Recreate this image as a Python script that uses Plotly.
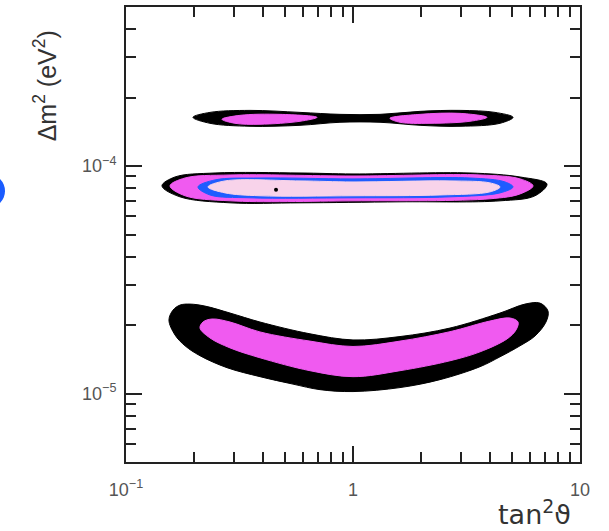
import plotly.graph_objects as go

# allowed regions, tan^2(theta) vs dm^2 (dm^2 in units of 1e-5 eV^2)
low_outer_x = [0.1546, 0.1612, 0.1729, 0.1914, 0.2228, 0.2873, 0.3893, 0.6463, 1.0, 1.611, 2.675, 4.442,
               5.724, 6.665, 7.228, 7.081, 6.337, 5.442, 4.442, 3.627, 2.417, 1.611, 1.0, 0.7155,
               0.5441, 0.3893, 0.2786, 0.2118, 0.182, 0.1644]
low_outer_y = [2.104, 2.327, 2.447, 2.472, 2.423, 2.258, 2.062, 1.83, 1.72, 1.78, 1.94, 2.258,
               2.472, 2.497, 2.304, 2.062, 1.791, 1.621, 1.450, 1.312, 1.151, 1.062, 1.020, 1.040,
               1.100, 1.186, 1.299, 1.466, 1.621, 1.809]
low_inner_x = [0.2118, 0.2184, 0.2392, 0.2873, 0.3893, 0.6463, 1.0, 1.611, 2.675, 4.013, 4.916, 5.333,
               5.224, 4.769, 3.627, 2.675, 1.611, 1.0, 0.6463, 0.3893, 0.2873, 0.2344]
low_inner_y = [1.941, 2.062, 2.126, 2.062, 1.865, 1.70, 1.61, 1.70, 1.87, 2.083, 2.147, 2.062,
               1.903, 1.738, 1.525, 1.393, 1.260, 1.186, 1.260, 1.436, 1.587, 1.755]

mid_black_x = [0.144, 0.1644, 0.2467, 0.5842, 1.0, 3.276, 5.442, 7.153, 6.337, 4.442, 1.611, 0.5842, 0.2873, 0.1729]
mid_black_y = [8.18, 8.95, 9.32, 9.32, 9.23, 9.32, 8.95, 8.34, 7.40, 7.03, 6.96, 6.89, 6.89, 7.32]
mid_magenta_x = [0.1563, 0.182, 0.2873, 1.0, 3.627, 5.442, 6.209, 5.442, 4.013, 1.0, 0.2873, 0.182]
mid_magenta_y = [8.18, 8.86, 9.135, 9.04, 9.135, 8.78, 8.18, 7.54, 7.177, 7.03, 7.03, 7.40]
mid_blue_x = [0.2075, 0.2467, 0.3893, 1.0, 3.276, 4.674, 5.068, 4.442, 2.675, 1.0, 0.3518, 0.2344]
mid_blue_y = [8.09, 8.69, 8.86, 8.78, 8.86, 8.51, 8.09, 7.62, 7.32, 7.25, 7.25, 7.46]
mid_pink_x = [0.2297, 0.2731, 0.5842, 1.0, 2.675, 4.013, 4.442, 4.013, 2.417, 1.0, 0.3893, 0.2731]
mid_pink_y = [8.09, 8.60, 8.60, 8.51, 8.60, 8.43, 8.09, 7.70, 7.46, 7.40, 7.40, 7.62]

top_black_x = [0.1973, 0.2344, 0.3518, 0.5842, 0.8763, 1.315, 1.974, 2.961, 4.223, 5.068,
               4.442, 2.961, 1.974, 1.315, 0.8763, 0.5842, 0.3518, 0.2344]
top_black_y = [16.37, 17.21, 17.56, 17.21, 16.87, 16.87, 17.39, 17.56, 17.21, 16.37,
               15.41, 14.95, 15.10, 15.57, 15.57, 15.10, 14.95, 15.41]
top_left_x = [0.2648, 0.3177, 0.477, 0.694, 0.5842, 0.3893, 0.302]
top_left_y = [16.05, 16.70, 16.87, 16.37, 15.73, 15.26, 15.41]
top_right_x = [1.455, 1.974, 2.961, 3.891, 3.276, 2.184, 1.611]
top_right_y = [16.21, 16.87, 17.04, 16.37, 15.73, 15.41, 15.57]

best_x = [0.458]
best_y = [7.86]

x_major = [0.1, 1, 10]
x_major_text = ["10<sup>\u22121</sup>", "1", "10"]
y_major = [1e-5, 1e-4]
y_major_text = ["10<sup>\u22125</sup>", "10<sup>\u22124</sup>"]

BLACK = "#000000"
MAGENTA = "#f05af0"
BLUE = "#1f5cff"
PINK = "#f8d3ea"

fig = go.Figure()


def region(xs, ys, color):
    xs = list(xs) + [xs[0]]
    ys = [v * 1e-5 for v in list(ys) + [ys[0]]]
    fig.add_trace(go.Scatter(x=xs, y=ys, mode="lines", fill="toself", fillcolor=color,
                             line=dict(color=color, width=1, shape="spline", smoothing=1.0),
                             hoverinfo="skip", showlegend=False))


region(low_outer_x, low_outer_y, BLACK)
region(low_inner_x, low_inner_y, MAGENTA)
region(mid_black_x, mid_black_y, BLACK)
region(mid_magenta_x, mid_magenta_y, MAGENTA)
region(mid_blue_x, mid_blue_y, BLUE)
region(mid_pink_x, mid_pink_y, PINK)
region(top_black_x, top_black_y, BLACK)
region(top_left_x, top_left_y, MAGENTA)
region(top_right_x, top_right_y, MAGENTA)

fig.add_trace(go.Scatter(x=best_x, y=[v * 1e-5 for v in best_y], mode="markers",
                         marker=dict(color="black", size=4), showlegend=False))

minor_x = [k * 0.1 for k in range(2, 10)] + list(range(2, 10))
minor_y = [k * 1e-6 for k in range(5, 10)] + [k * 1e-5 for k in range(2, 10)] + [k * 1e-4 for k in range(2, 6)]

axis_common = dict(showgrid=False, zeroline=False, showline=True, linecolor="#222", linewidth=2,
                   mirror="ticks", ticks="inside", ticklen=16, tickwidth=1.5, tickcolor="#222",
                   automargin=False,
                   tickfont=dict(family="Liberation Sans, Arial, sans-serif", size=18, color="#555"))

fig.update_xaxes(type="log", range=[-1, 1], tickmode="array", tickvals=x_major, ticktext=x_major_text,
                 ticklabelstandoff=10,
                 minor=dict(tickmode="array", tickvals=minor_x, ticks="inside", ticklen=10,
                            tickwidth=1.5, tickcolor="#222", showgrid=False),
                 **axis_common)
fig.update_yaxes(type="log", range=[-5.301, -3.301], tickmode="array", tickvals=y_major, ticktext=y_major_text,
                 ticklabelstandoff=4,
                 minor=dict(tickmode="array", tickvals=minor_y, ticks="inside", ticklen=10,
                            tickwidth=1.5, tickcolor="#222", showgrid=False),
                 **axis_common)

fig.add_annotation(text="\u0394m<sup>2</sup> (eV<sup>2</sup>)", xref="paper", yref="paper",
                   x=-0.178, y=0.826, xanchor="center", yanchor="middle", textangle=-90,
                   showarrow=False, font=dict(family="Liberation Sans, Arial, sans-serif", size=25, color="#333"))
fig.add_annotation(text="tan<sup>2</sup>\u03d1", xref="paper", yref="paper",
                   x=0.90, y=-0.112, xanchor="center", yanchor="middle",
                   showarrow=False, font=dict(family="DejaVu Sans, sans-serif", size=27, color="#333"))

# blue blob cut by the left edge of the picture
fig.add_shape(type="circle", xref="paper", yref="paper", x0=-0.3414, x1=-0.2665, y0=0.5582, y1=0.633,
              fillcolor="#1a5cff", line=dict(width=0))

fig.update_layout(width=609, height=531, margin=dict(l=126, r=29, t=7, b=69),
                  plot_bgcolor="white", paper_bgcolor="white")

fig.write_html("out.html", config={"displayModeBar": False},
               post_script="document.body.style.margin='0';")
